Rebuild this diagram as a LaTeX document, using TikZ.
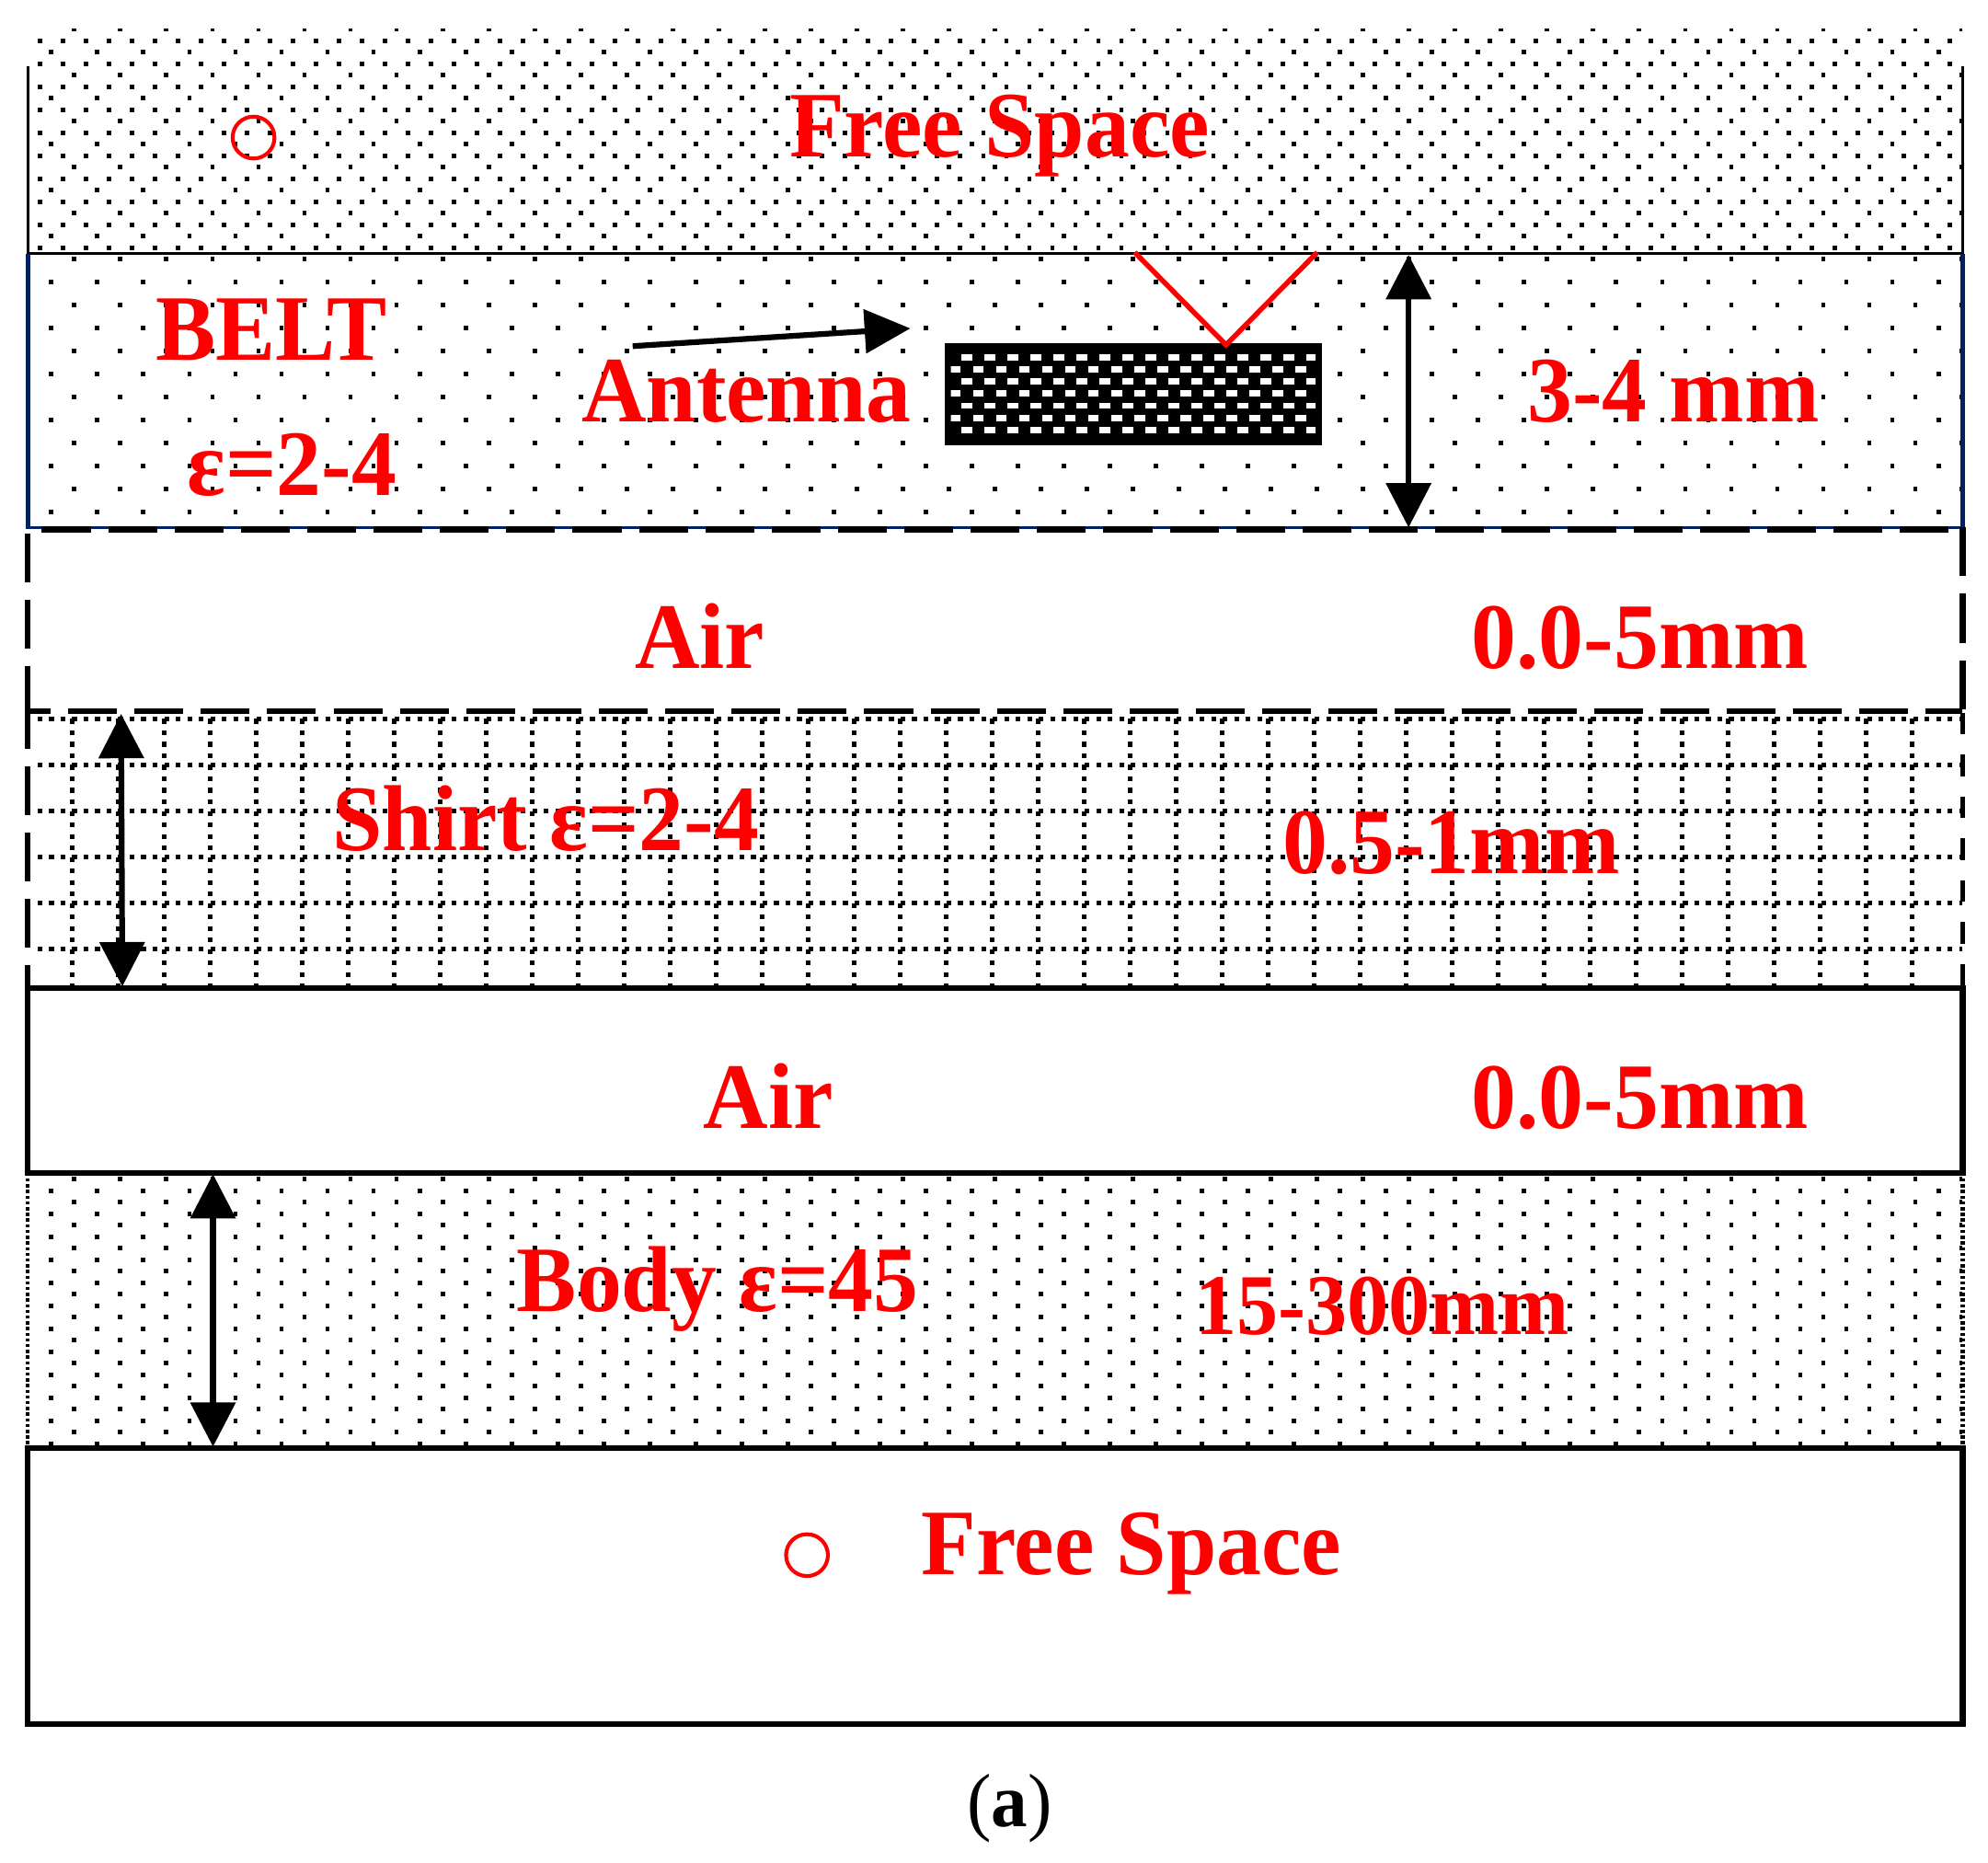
\documentclass[tikz,border=0pt]{standalone}
\usepackage{fontspec}
\setmainfont{Liberation Serif}[FakeStretch=0.96]
\usetikzlibrary{arrows.meta,positioning}
\definecolor{beltnavy}{RGB}{0,32,96}

\begin{document}
\begin{tikzpicture}[x=0.01cm, y=-0.01cm, >={Triangle[length=3.5mm,width=3.5mm]},
  lbl/.style={text=red, font=\fontsize{21}{24}\selectfont\bfseries, inner sep=0pt, anchor=base west},
  densedots/.style={line width=0.035cm, dash pattern=on 0.035cm off 0.1464cm},
  sparsedots/.style={line width=0.035cm, dash pattern=on 0.035cm off 0.3278cm},
  griddots/.style={line width=0.038cm, dash pattern=on 0.038cm off 0.0527cm},
  wall/.style={line width=0.045cm},
  longdash/.style={line width=0.045cm, dash pattern=on 0.385cm off 0.138cm},
  dimline/.style={<->, line width=0.045cm},
  ring/.style={draw=red, circle, line width=0.03cm, minimum size=0.33cm, inner sep=0pt}]
\useasboundingbox (0,0) rectangle (1568,1469);
\begin{scope}
\clip (22,23) rectangle (1548,200);
\foreach \j in {0,2,...,18}
  \draw[densedots] (29.7,{32+9.07*\j}) -- (1548,{32+9.07*\j});
\foreach \j in {1,5,...,17}
  \draw[sparsedots] (38.77,{32+9.07*\j}) -- (1548,{32+9.07*\j});
\foreach \j in {-1,3,...,15}
  \draw[sparsedots] (56.91,{32+9.07*\j}) -- (1548,{32+9.07*\j});
\end{scope}
\foreach \j in {21,25,...,41}
  \draw[sparsedots] (38.77,{32+9.07*\j}) -- (1548,{32+9.07*\j});
\foreach \j in {19,23,...,39}
  \draw[sparsedots] (56.91,{32+9.07*\j}) -- (1548,{32+9.07*\j});
\foreach \k in {0,...,5}
  \draw[griddots] (29.7,{567+36.28*\k}) -- (1548,{567+36.28*\k});
\foreach \k in {0,...,40}
  \draw[griddots] ({57+36.28*\k},567) -- ({57+36.28*\k},779);
\foreach \i in {0,2,...,22}
  \draw[sparsedots] (38.77,{939+9.07*\i}) -- (1548,{939+9.07*\i});
\foreach \i in {-1,1,...,21}
  \draw[sparsedots] (56.91,{939+9.07*\i}) -- (1548,{939+9.07*\i});
\draw[line width=0.025cm] (22,52) -- (22,200) -- (1548,200) -- (1548,52);
\draw[beltnavy, line width=0.04cm] (22,200) -- (22,417) (1548,200) -- (1548,417);
\draw[beltnavy, line width=0.025cm] (22,416) -- (1548,416);
\draw[longdash, dash phase=0.413cm] (22,417.5) -- (1548,417.5);
\draw[longdash] (22,421) -- (22,562) (1548,416) -- (1548,562);
\draw[longdash, dash phase=0.206cm] (22,561) -- (1548,561);
\draw[longdash, dash phase=0.1cm] (22,562) -- (22,779);
\draw[line width=0.04cm, dash pattern=on 0.17cm off 0.16cm] (1548,562) -- (1548,779);
\draw[line width=0.03cm, dash pattern=on 0.025cm off 0.02cm] (22,925) -- (22,1142) (1548,925) -- (1548,1142);
\draw[wall] (22,779) rectangle (1548,925);
\draw[wall] (22,1142) rectangle (1548,1360);
\node[fill=black, minimum width=2.97cm, minimum height=0.805cm, inner sep=0pt] (patch) at (894,311) {};
\begin{scope}
\clip (750,271) rectangle (1037.5,351);
\foreach \r in {0,2,4,6}
  \draw[white, line width=0.05cm, dash pattern=on 0.085cm off 0.0964cm] (758.4,{282+9.5*\r}) -- (1042,{282+9.5*\r});
\foreach \r in {1,3,5}
  \draw[white, line width=0.05cm, dash pattern=on 0.085cm off 0.0964cm] (749.3,{282+9.5*\r}) -- (1042,{282+9.5*\r});
\end{scope}
\coordinate (vLeft) at (895,199);
\coordinate (vTip) at (967,272);
\coordinate (vRight) at (1039,199);
\draw[red, line width=0.04cm] (vLeft) -- (vTip) -- (vRight);
\coordinate (arrTail) at (499,273);
\coordinate (arrTip) at (718,259);
\draw[->, line width=0.045cm, >={Triangle[length=3.6mm,width=3.4mm]}] (arrTail) -- (arrTip);
\coordinate (beltTop) at (1111,201);
\coordinate (beltBot) at (1111,416);
\coordinate (shirtTop) at (95.5,563);
\coordinate (shirtBot) at (96.5,778);
\coordinate (bodyTop) at (168,926);
\coordinate (bodyBot) at (168,1141);
\draw[dimline] (beltTop) -- (beltBot);
\draw[dimline] (shirtTop) -- (shirtBot);
\draw[dimline] (bodyTop) -- (bodyBot);
\node[ring] (ringTop) at (200,108.5) {};
\node[ring] (ringBot) at (636.5,1226.5) {};
\node[lbl] (freeTop) at (622,124) {Free Space};
\node[lbl] (beltName) at (122,284) {BELT};
\node[lbl] (beltEps) at (147,390.5) {ε=2-4};
\node[lbl] (antName) at (458,333) {Antenna};
\node[lbl] (beltThk) at (1204,333) {3-4 mm};
\node[lbl] (airA) at (500,527) {Air};
\node[lbl] (airAThk) at (1160,527) {0.0-5mm};
\node[lbl] (shirtName) at (261.6,671) {Shirt ε=2-4};
\node[lbl] (shirtThk) at (1011,689) {0.5-1mm};
\node[lbl] (airB) at (554,890) {Air};
\node[lbl] (airBThk) at (1160,890) {0.0-5mm};
\node[lbl] (bodyName) at (407,1034) {Body ε=45};
\node[lbl, font=\fontsize{19.4}{22}\selectfont\bfseries] (bodyThk) at (942,1052.7) {15-300mm};
\node[lbl] (freeBot) at (726,1242) {Free Space};
\node[inner sep=0pt, anchor=base west, font=\fontsize{17}{20}\selectfont] (caption) at (762,1440.5) {(\textbf{a})};
\end{tikzpicture}
\end{document}
